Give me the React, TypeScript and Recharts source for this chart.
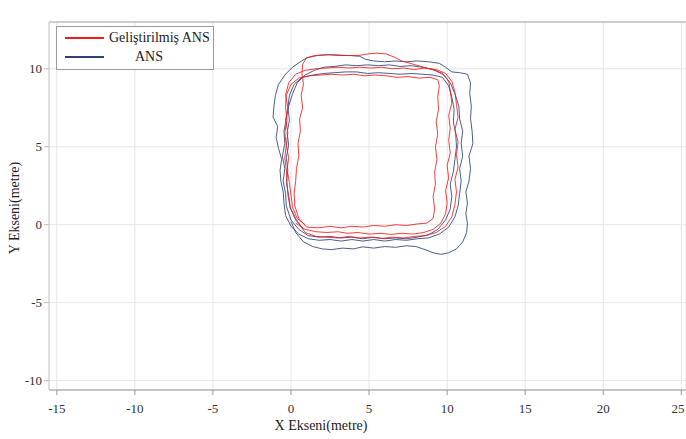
import React from "react"
import { CartesianGrid, Line, LineChart, ReferenceLine, XAxis, YAxis } from "recharts"

// axis ticks
const X_TICKS = [-15, -10, -5, 0, 5, 10, 15, 20, 25]
const Y_TICKS = [-10, -5, 0, 5, 10]

// Geliştirilmiş ANS — three laps, [x, y] in metres
const redLap1 = [
  [0.3, 0.1], [0.9, -0.3], [1.6, -0.45], [2.3, -0.5], [3.0, -0.45], [3.6, -0.55], [4.3, -0.5], [5.0, -0.6],
  [5.7, -0.55], [6.4, -0.62], [7.1, -0.55], [7.8, -0.6], [8.5, -0.5], [9.1, -0.3], [9.6, 0.1], [9.9, 0.7],
  [10.0, 1.4], [9.9, 2.2], [10.1, 3.0], [10.0, 3.8], [10.2, 4.6], [10.1, 5.4], [10.2, 6.2], [10.1, 7.0],
  [10.3, 7.8], [10.2, 8.6], [10.1, 9.2], [9.8, 9.6], [9.2, 9.9], [8.5, 10.1], [7.8, 10.3], [7.1, 10.5],
  [6.6, 10.75], [6.1, 10.95], [5.5, 11.0], [4.9, 10.95], [4.3, 10.85], [3.6, 10.85], [2.9, 10.9], [2.2, 10.9],
  [1.5, 10.85], [1.0, 10.7], [0.75, 10.3], [0.7, 9.7], [0.8, 9.0], [0.65, 8.3], [0.75, 7.5], [0.55, 6.8],
  [0.6, 6.0], [0.45, 5.2], [0.5, 4.4], [0.35, 3.6], [0.3, 2.8], [0.2, 2.0], [0.25, 1.2], [0.5, 0.4],
]
const redLap2 = [
  [1.0, -0.15], [1.8, -0.2], [2.5, -0.1], [3.2, -0.2], [3.9, -0.1], [4.6, -0.15], [5.3, -0.05], [6.0, -0.1],
  [6.7, 0.0], [7.4, -0.05], [8.1, 0.05], [8.7, 0.1], [9.1, 0.4], [9.2, 1.0], [9.1, 1.8], [9.25, 2.6],
  [9.2, 3.4], [9.35, 4.2], [9.25, 5.0], [9.4, 5.8], [9.3, 6.6], [9.45, 7.4], [9.4, 8.2], [9.5, 8.9],
  [9.4, 9.3], [8.9, 9.45], [8.2, 9.4], [7.5, 9.5], [6.8, 9.45], [6.1, 9.55], [5.4, 9.6], [4.7, 9.55],
  [4.0, 9.65], [3.3, 9.6], [2.6, 9.65], [1.9, 9.6], [1.2, 9.55], [0.5, 9.4], [0.0, 9.0], [-0.3, 8.3],
  [-0.35, 7.5], [-0.25, 6.7], [-0.4, 5.9], [-0.3, 5.1], [-0.4, 4.3], [-0.3, 3.5], [-0.25, 2.7], [-0.2, 1.9],
  [-0.05, 1.1], [0.3, 0.4],
]
const redLap3 = [
  [0.9, -0.5], [1.6, -0.75], [2.3, -0.8], [3.0, -0.85], [3.7, -0.75], [4.4, -0.85], [5.1, -0.8], [5.8, -0.88],
  [6.5, -0.8], [7.2, -0.85], [7.9, -0.75], [8.6, -0.7], [9.3, -0.5], [9.9, -0.1], [10.3, 0.5], [10.5, 1.3],
  [10.6, 2.1], [10.5, 2.9], [10.7, 3.7], [10.6, 4.5], [10.7, 5.3], [10.5, 6.1], [10.7, 6.9], [10.6, 7.7],
  [10.5, 8.5], [10.3, 9.2], [9.9, 9.7], [9.3, 9.95], [8.6, 10.05], [7.9, 9.95], [7.2, 10.05], [6.5, 10.0],
  [5.8, 10.1], [5.1, 10.05], [4.4, 10.1], [3.7, 10.05], [3.0, 10.1], [2.3, 10.05], [1.6, 10.0], [0.9, 9.9],
  [0.3, 9.65], [-0.15, 9.1], [-0.35, 8.3], [-0.2, 7.5], [-0.35, 6.7], [-0.2, 5.9], [-0.3, 5.1], [-0.15, 4.3],
  [-0.25, 3.5], [-0.1, 2.7], [0.0, 1.9], [0.1, 1.1], [0.4, 0.4], [0.9, 0.0],
]

// ANS — three laps
const blueLap1 = [
  [0.0, 0.2], [0.3, -0.5], [0.8, -1.1], [1.4, -1.4], [2.0, -1.55], [2.6, -1.6], [3.3, -1.5], [4.0, -1.55],
  [4.6, -1.42], [5.3, -1.5], [6.0, -1.4], [6.7, -1.45], [7.4, -1.35], [8.0, -1.4], [8.6, -1.6], [9.1, -1.8],
  [9.6, -1.9], [10.1, -1.8], [10.6, -1.55], [11.0, -1.1], [11.25, -0.5], [11.3, 0.1], [11.2, 0.7], [11.3, 1.4],
  [11.2, 2.1], [11.4, 2.8], [11.5, 3.6], [11.4, 4.4], [11.65, 5.2], [11.6, 6.0], [11.5, 6.8], [11.55, 7.6],
  [11.45, 8.4], [11.5, 9.1], [11.3, 9.65], [10.8, 9.75], [10.3, 9.8], [9.9, 10.1], [9.5, 10.35], [8.8, 10.45],
  [8.1, 10.5], [7.4, 10.45], [6.7, 10.5], [6.0, 10.45], [5.3, 10.5], [4.8, 10.6], [4.4, 10.8], [3.8, 10.85],
  [3.1, 10.85], [2.4, 10.9], [1.7, 10.85], [1.0, 10.7], [0.6, 10.45], [0.1, 10.1], [-0.4, 9.6], [-0.8, 9.0],
  [-1.0, 8.3], [-1.1, 7.5], [-1.15, 6.9], [-0.85, 6.3], [-0.95, 5.6], [-0.8, 4.9], [-0.6, 4.2], [-0.7, 3.5],
  [-0.65, 2.8], [-0.5, 2.1], [-0.45, 1.4], [-0.35, 0.6], [0.0, -0.1],
]
const blueLap2 = [
  [0.5, -0.6], [1.1, -0.9], [1.8, -1.0], [2.5, -0.95], [3.2, -1.05], [3.9, -0.95], [4.6, -1.05], [5.3, -0.95],
  [6.0, -1.05], [6.7, -0.95], [7.4, -1.0], [8.1, -0.9], [8.8, -0.85], [9.5, -0.6], [10.1, -0.15], [10.5, 0.5],
  [10.7, 1.2], [10.8, 2.0], [10.9, 2.8], [10.8, 3.6], [11.0, 4.4], [10.9, 5.2], [11.0, 6.0], [10.8, 6.8],
  [10.75, 7.6], [10.5, 8.4], [10.2, 9.1], [9.7, 9.7], [9.1, 9.95], [8.4, 10.1], [7.7, 10.2], [7.0, 10.15],
  [6.3, 10.25], [5.6, 10.2], [4.9, 10.25], [4.2, 10.2], [3.5, 10.25], [2.8, 10.15], [2.1, 10.1], [1.5, 9.9],
  [0.9, 9.6], [0.4, 9.1], [0.1, 8.4], [-0.15, 7.6], [-0.3, 6.8], [-0.45, 6.0], [-0.4, 5.2], [-0.55, 4.4],
  [-0.4, 3.6], [-0.5, 2.8], [-0.35, 2.0], [-0.3, 1.2], [0.0, 0.3], [0.5, -0.3],
]
const blueLap3 = [
  [1.1, -0.7], [1.8, -0.8], [2.5, -0.75], [3.2, -0.85], [3.9, -0.8], [4.6, -0.9], [5.3, -0.8], [6.0, -0.9],
  [6.7, -0.85], [7.4, -0.9], [8.1, -0.8], [8.8, -0.65], [9.4, -0.3], [9.9, 0.3], [10.2, 1.0], [10.3, 1.8],
  [10.2, 2.6], [10.4, 3.4], [10.5, 4.2], [10.6, 5.0], [10.55, 5.8], [10.4, 6.6], [10.45, 7.4], [10.3, 8.2],
  [10.1, 8.9], [9.7, 9.45], [9.1, 9.6], [8.4, 9.65], [7.7, 9.7], [7.0, 9.65], [6.3, 9.7], [5.6, 9.75],
  [4.9, 9.7], [4.2, 9.8], [3.5, 9.8], [2.8, 9.75], [2.1, 9.7], [1.4, 9.6], [0.7, 9.45], [0.2, 9.0],
  [-0.1, 8.3], [-0.2, 7.5], [-0.1, 6.7], [-0.25, 5.9], [-0.15, 5.1], [-0.3, 4.3], [-0.2, 3.5], [-0.3, 2.7],
  [-0.15, 1.9], [-0.05, 1.1], [0.3, 0.3], [0.8, -0.3],
]

const toPoints = (laps: number[][][]) => laps.flat().map(([x, y]) => ({ x, y }))
const redPath = toPoints([redLap1, redLap2, redLap3])
const bluePath = toPoints([blueLap1, blueLap2, blueLap3])

const RED = "#f21c1c"
const BLUE = "#2c4275"
const FONT = '"Liberation Serif", "Times New Roman", serif'

// tick text drawn by hand so the serif face sticks
function XTick({ x, y, payload }: any) {
  return (
    <text x={x} y={y} dy={16} textAnchor="middle" fontFamily={FONT} fontSize={13} fill="#333">
      {payload.value}
    </text>
  )
}

function YTick({ x, y, payload }: any) {
  return (
    <text x={x} y={y} dy={4.5} textAnchor="end" fontFamily={FONT} fontSize={13} fill="#333">
      {payload.value}
    </text>
  )
}

function LegendBox() {
  const row = (color: string, text: string, top: number, indent: number) => (
    <div style={{ position: "absolute", left: 0, top, display: "flex", alignItems: "center" }}>
      <span style={{ display: "inline-block", width: 39, height: 2, background: color, marginLeft: 8 }} />
      <span style={{ marginLeft: indent, fontSize: 14, color: "#222", lineHeight: "16px" }}>{text}</span>
    </div>
  )
  return (
    <div
      style={{
        position: "absolute", left: 56, top: 26, width: 156, height: 42,
        border: "1px solid #9a9a9a", background: "#fff", fontFamily: FONT,
      }}
    >
      {row(RED, "Geliştirilmiş ANS", 3, 5)}
      {row(BLUE, "ANS", 22, 31)}
    </div>
  )
}

export default function App() {
  return (
    <div
      style={{
        position: "absolute", left: 0, top: 0, width: 686, height: 439,
        background: "#fff", fontFamily: FONT,
      }}
    >
      <LineChart width={686} height={439} margin={{ top: 22, right: 0, bottom: 0, left: 0 }}>
        <CartesianGrid stroke="#e6e6e6" strokeWidth={1} />
        <XAxis
          type="number"
          dataKey="x"
          domain={[-15.5, 25.3]}
          ticks={X_TICKS}
          height={49}
          tick={<XTick />}
          tickSize={5}
          tickLine={{ stroke: "#999" }}
          axisLine={{ stroke: "#999" }}
          allowDataOverflow
          label={{
            content: () => (
              <text x={321} y={430} textAnchor="middle" fontSize={14} fontFamily={FONT} fill="#222">
                X Ekseni(metre)
              </text>
            ),
          }}
        />
        <YAxis
          type="number"
          dataKey="y"
          domain={[-10.6, 13]}
          ticks={Y_TICKS}
          width={49}
          tick={<YTick />}
          tickSize={5}
          tickLine={{ stroke: "#bbb" }}
          axisLine={{ stroke: "#ccc" }}
          allowDataOverflow
          label={{
            content: () => (
              <text
                x={16}
                y={208}
                transform="rotate(-90 16 208)"
                textAnchor="middle"
                dominantBaseline="middle"
                fontSize={14}
                fontFamily={FONT}
                fill="#222"
              >
                Y Ekseni(metre)
              </text>
            ),
          }}
        />
        <ReferenceLine y={13} stroke="#aaa" />
        <Line
          data={bluePath}
          dataKey="y"
          stroke={BLUE}
          strokeWidth={1}
          strokeOpacity={0.85}
          dot={false}
          type="linear"
          isAnimationActive={false}
        />
        <Line
          data={redPath}
          dataKey="y"
          stroke={RED}
          strokeWidth={1}
          strokeOpacity={0.85}
          dot={false}
          type="linear"
          isAnimationActive={false}
        />
      </LineChart>
      <LegendBox />
    </div>
  )
}
